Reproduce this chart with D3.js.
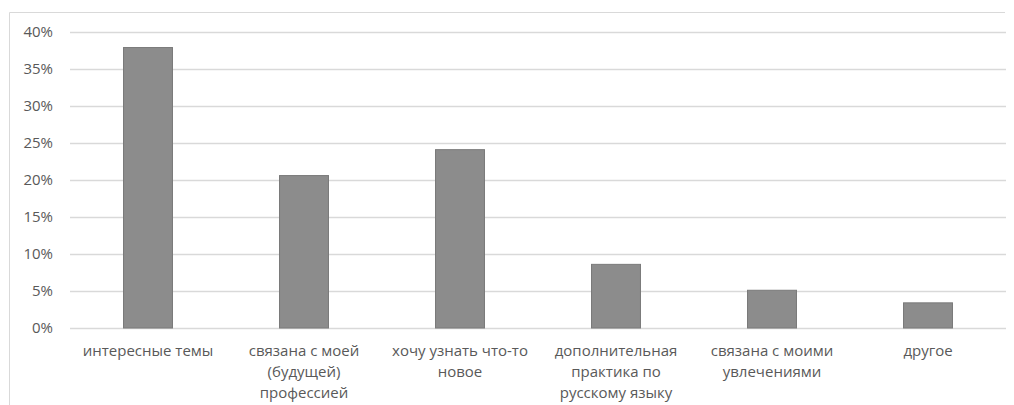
<!DOCTYPE html>
<html>
<head>
<meta charset="utf-8">
<script src="https://cdn.jsdelivr.net/npm/d3@7"></script>
<style>
  body { margin: 0; background: #fff; }
  text { font-family: "Open Sans", "DejaVu Sans", sans-serif; fill: #595959; }
</style>
</head>
<body>
<div id="chart"></div>
<script>
// data
var categories = [
    "интересные темы",
    "связана с моей\n(будущей)\nпрофессией",
    "хочу узнать что-то\nновое",
    "дополнительная\nпрактика по\nрусскому языку",
    "связана с моими\nувлечениями",
    "другое"
];
var values = [0.379, 0.206, 0.241, 0.086, 0.051, 0.034];
var yTicks = [0, 0.05, 0.10, 0.15, 0.20, 0.25, 0.30, 0.35, 0.40];

var svgWidth = 1014;
var svgHeight = 405;

var margin = { top: 32, right: 8, bottom: 77, left: 70 };
var width = svgWidth - margin.left - margin.right;
var height = svgHeight - margin.top - margin.bottom;

var svg = d3.select("#chart")
    .append("svg")
    .attr("width", svgWidth)
    .attr("height", svgHeight);

// chart frame (top + left edges visible)
svg.append("path")
    .attr("d", "M9.5,405 L9.5,12.5 L1005,12.5")
    .attr("fill", "none")
    .attr("stroke", "#d9d9d9")
    .attr("stroke-width", 1);

var chartGroup = svg.append("g")
    .attr("transform", `translate(${margin.left}, ${margin.top})`);

var xScale = d3.scaleBand()
    .domain(categories)
    .range([0, width])
    .paddingInner(0.686)
    .paddingOuter(0.343);

var yScale = d3.scaleLinear()
    .domain([0, 0.4])
    .range([height, 0]);

// gridlines
var leftAxis = d3.axisLeft(yScale)
    .tickValues(yTicks)
    .tickSize(-width)
    .tickFormat(d3.format(".0%"));

var yAxis = chartGroup.append("g")
    .classed("y-axis", true)
    .call(leftAxis);
yAxis.select(".domain").remove();
yAxis.selectAll("line")
    .attr("stroke", "#d9d9d9")
    .attr("stroke-width", 1.5);
yAxis.selectAll("text")
    .attr("x", -17)
    .style("font-size", "15px");

// bars
chartGroup.selectAll("rect.bar")
    .data(values)
    .enter()
    .append("rect")
    .attr("class", "bar")
    .attr("x", function(d, i) { return xScale(categories[i]); })
    .attr("y", function(d) { return yScale(d); })
    .attr("width", xScale.bandwidth())
    .attr("height", function(d) { return height - yScale(d); })
    .attr("fill", "#8c8c8c")
    .attr("stroke", "#7a7a7a")
    .attr("stroke-width", 1);

// category labels
var bottomAxis = d3.axisBottom(xScale).tickSize(0).tickFormat("");
var xAxis = chartGroup.append("g")
    .classed("x-axis", true)
    .attr("transform", `translate(0, ${height})`)
    .call(bottomAxis);
xAxis.select(".domain").remove();

xAxis.selectAll(".tick").each(function(d) {
    var lines = d.split("\n");
    var t = d3.select(this).append("text")
        .attr("text-anchor", "middle")
        .attr("y", 28)
        .style("font-size", "15px");
    lines.forEach(function(line, i) {
        t.append("tspan")
            .attr("x", 0)
            .attr("dy", i === 0 ? 0 : 21)
            .text(line);
    });
});
</script>
</body>
</html>
